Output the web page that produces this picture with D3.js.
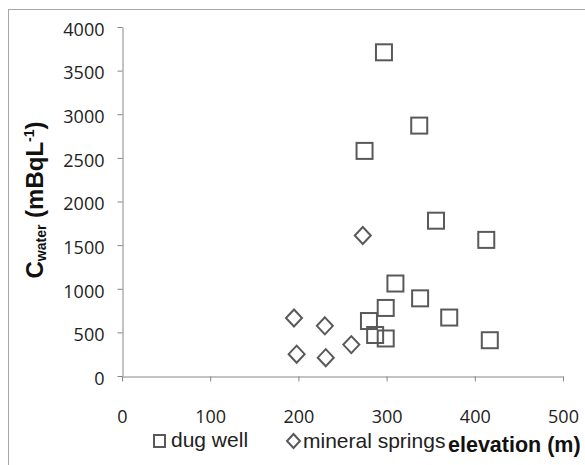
<!DOCTYPE html>
<html>
<head>
<meta charset="utf-8">
<script src="https://cdn.jsdelivr.net/npm/d3@7"></script>
<style>
  html, body { margin: 0; padding: 0; background: #fff; }
  svg { display: block; }
</style>
</head>
<body>
<div id="chart"></div>
<script>
// ---- data ----
const xTicks = [0, 100, 200, 300, 400, 500];
const yTicks = [0, 500, 1000, 1500, 2000, 2500, 3000, 3500, 4000];
const dugWellElevation = [297, 337, 275, 356, 413, 310, 338, 299, 280, 371, 287, 299, 417];
const dugWellC = [3710, 2870, 2580, 1780, 1560, 1060, 890, 780, 630, 670, 470, 430, 410];
const springElevation = [195, 230, 198, 231, 260, 273];
const springC = [665, 575, 250, 210, 360, 1610];
const legendLabels = ["dug well", "mineral springs"];

const W = 585, H = 465;
const svg = d3.select("#chart").append("svg").attr("width", W).attr("height", H);

// outer border (extends beyond the visible picture)
svg.append("rect").attr("x", 8.5).attr("y", 9.5).attr("width", 640).attr("height", 520)
  .attr("fill", "none").attr("stroke", "#a6a6a6").attr("stroke-width", 1);

const x = d3.scaleLinear().domain([0, 500]).range([122, 563]);
const y = d3.scaleLinear().domain([0, 4000]).range([376, 27]);

const axisColor = "#868686";
const tickFont = "'Open Sans', sans-serif";

const yAxis = svg.append("g").attr("transform", "translate(122.5,0)")
  .call(d3.axisLeft(y).tickValues(yTicks).tickSize(5).tickSizeOuter(0).tickPadding(13).tickFormat(d3.format("d")));
yAxis.selectAll("text").attr("dy", "0.46em");

const xAxis = svg.append("g").attr("transform", "translate(0,376.5)")
  .call(d3.axisBottom(x).tickValues(xTicks).tickSize(5).tickSizeOuter(0).tickPadding(29).tickFormat(d3.format("d")));

[yAxis, xAxis].forEach(g => {
  g.select(".domain").attr("stroke", axisColor).attr("stroke-width", 1);
  g.selectAll(".tick line").attr("stroke", axisColor).attr("stroke-width", 1);
  g.selectAll("text").attr("fill", "#222").style("font-family", tickFont).style("font-size", "18px");
});

const markColor = "#595959";
const sq = 16;
function diamondPath(cx, cy, w, h) {
  return `M${cx},${cy - h / 2}L${cx + w / 2},${cy}L${cx},${cy + h / 2}L${cx - w / 2},${cy}Z`;
}

// mineral springs (diamonds)
svg.append("g").selectAll("path").data(springElevation).join("path")
  .attr("d", (d, i) => diamondPath(x(d), y(springC[i]), 16, 17))
  .attr("fill", "none").attr("stroke", markColor).attr("stroke-width", 2);

// dug wells (squares)
svg.append("g").selectAll("rect").data(dugWellElevation).join("rect")
  .attr("x", d => x(d) - sq / 2).attr("y", (d, i) => y(dugWellC[i]) - sq / 2)
  .attr("width", sq).attr("height", sq)
  .attr("fill", "none").attr("stroke", markColor).attr("stroke-width", 2);

// legend
const legFont = "'Liberation Sans', Arial, sans-serif";
svg.append("rect").attr("x", 154).attr("y", 435).attr("width", 11).attr("height", 12)
  .attr("fill", "none").attr("stroke", markColor).attr("stroke-width", 2);
svg.append("text").attr("x", 171).attr("y", 447).text(legendLabels[0])
  .style("font-family", legFont).style("font-size", "21px").attr("fill", "#222");
svg.append("path").attr("d", diamondPath(293.5, 441, 13, 14))
  .attr("fill", "none").attr("stroke", markColor).attr("stroke-width", 2);
svg.append("text").attr("x", 303).attr("y", 448).text(legendLabels[1])
  .style("font-family", legFont).style("font-size", "21px").attr("fill", "#222");

// x axis title
svg.append("text").attr("x", 448).attr("y", 452).text("elevation (m)")
  .style("font-family", legFont).style("font-size", "21.5px").style("font-weight", "bold").attr("fill", "#111");

// y axis title
const yt = svg.append("text").attr("transform", "translate(43,200) rotate(-90)")
  .attr("text-anchor", "middle")
  .style("font-family", legFont).style("font-size", "24px").style("font-weight", "bold").attr("fill", "#111");
yt.append("tspan").text("C");
yt.append("tspan").text("water").style("font-size", "14px").attr("dy", 3);
yt.append("tspan").text(" (mBqL").attr("dy", -3);
yt.append("tspan").text("-1").style("font-size", "14px").attr("dy", -9);
yt.append("tspan").text(")").attr("dy", 9);
</script>
</body>
</html>
